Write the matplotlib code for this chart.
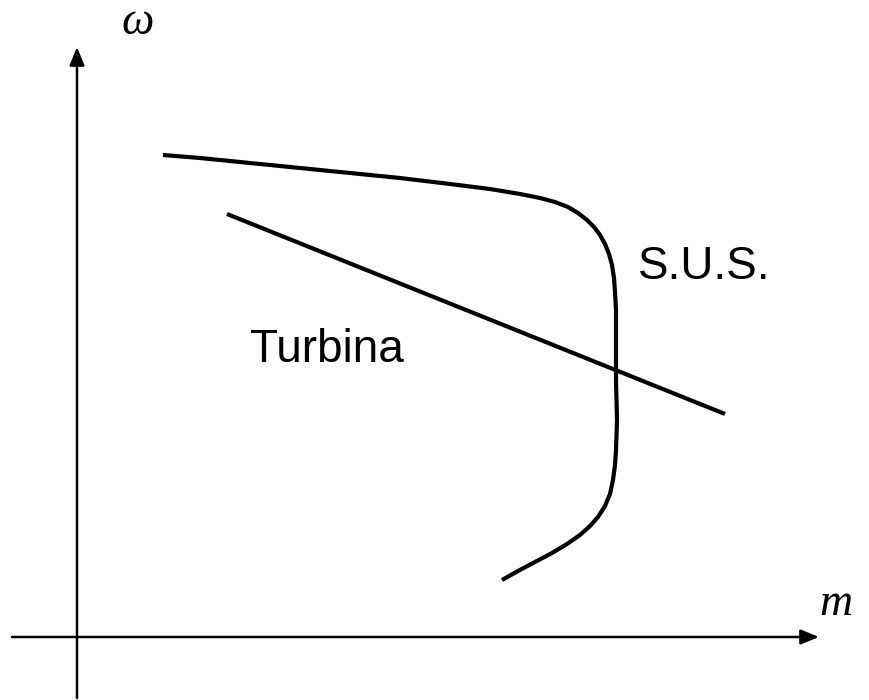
import matplotlib
matplotlib.use("Agg")
import matplotlib.pyplot as plt

# curva S.U.S. e retta turbina (pixel, y verso il basso)
sus_x = [163, 200, 250, 300, 350, 400, 450, 490, 520, 540, 555, 568, 578, 587, 594,
         600, 605, 609, 612, 614, 615, 616, 616, 616, 617, 616, 615, 613, 610, 605,
         598, 590, 580, 567, 552, 535, 518, 502]
sus_y = [155, 158, 163, 168, 173, 178, 184, 189, 194, 198, 202, 207, 213, 220, 227,
         235, 244, 254, 265, 278, 292, 310, 340, 380, 420, 450, 465, 480, 494, 506,
         517, 526, 535, 544, 553, 562, 571, 580]
turb_x = [227, 725]
turb_y = [214, 414]

SANS = ["Liberation Sans", "DejaVu Sans"]
SERIF = ["Liberation Serif", "DejaVu Serif"]

fig = plt.figure(figsize=(8.7, 7.0), dpi=100)
ax = fig.add_axes([0, 0, 1, 1])
ax.set_xlim(0, 870); ax.set_ylim(700, 0); ax.axis("off")

# assi con frecce
arr = dict(arrowstyle="-|>,head_length=1.1,head_width=0.45", color="black",
           lw=1.8, shrinkA=0, shrinkB=0)
ax.annotate("", xy=(819, 637), xytext=(12, 637), arrowprops=arr)
ax.annotate("", xy=(77, 47), xytext=(77, 698), arrowprops=arr)

ax.plot(sus_x, sus_y, color="black", lw=3.0, solid_capstyle="butt", solid_joinstyle="round")
ax.plot(turb_x, turb_y, color="black", lw=3.0, solid_capstyle="butt")

ax.text(638, 279, "S.U.S.", family=SANS, fontsize=33, color="black")
ax.text(250, 362, "Turbina", family=SANS, fontsize=33, color="black")
ax.text(121, 34, "\u03c9", family=SERIF, style="italic", fontsize=33, color="black")
ax.text(819, 615, "m", family=SERIF, style="italic", fontsize=33, color="black")

fig.savefig("out.png", facecolor="white")
